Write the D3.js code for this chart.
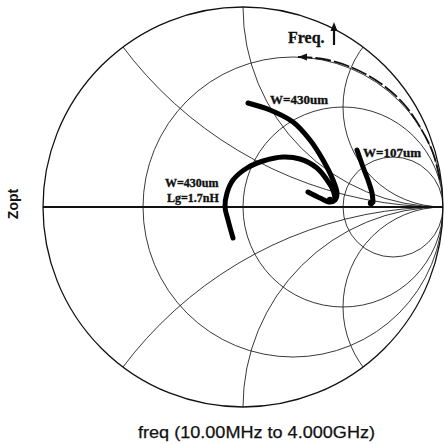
<!DOCTYPE html>
<html>
<head>
<meta charset="utf-8">
<script src="https://cdn.jsdelivr.net/npm/d3@7"></script>
<style>
  html, body { margin: 0; padding: 0; background: #fff; }
  svg { display: block; }
</style>
</head>
<body>
<svg id="chart" width="444" height="444"></svg>
<script>
// Smith chart grid values (normalised resistance / reactance)
const resistanceCircles = [1 / 3, 1, 3];
const reactanceArcs = [0.5, 1, 2, -0.5, -1, -2];

// Zopt traces as reflection coefficients (real, imag), low to high frequency
const traceW430Re = [0.025, 0.135, 0.25, 0.335, 0.40, 0.45, 0.47, 0.46, 0.435, 0.385, 0.325];
const traceW430Im = [0.52, 0.485, 0.425, 0.335, 0.235, 0.135, 0.07, 0.035, 0.025, 0.045, 0.075];

const traceLgRe = [-0.05, -0.075, -0.09, -0.08, -0.05, 0.02, 0.10, 0.20, 0.285, 0.37, 0.42, 0.45, 0.46];
const traceLgIm = [-0.155, -0.065, 0, 0.07, 0.135, 0.195, 0.23, 0.25, 0.24, 0.195, 0.135, 0.085, 0.045];

const traceW107Re = [0.57, 0.60, 0.625, 0.645, 0.65];
const traceW107Im = [0.285, 0.20, 0.135, 0.07, 0.025];

// end-of-sweep markers (reflection coefficient)
const markerRe = [0.435, 0.64];
const markerIm = [0.035, 0.02];

// frequency-direction guide arc
const freqArcRe = [0.275, 0.40, 0.55, 0.685, 0.80, 0.885, 0.95, 0.985];
const freqArcIm = [0.75, 0.74, 0.695, 0.62, 0.52, 0.40, 0.27, 0.135];

// text labels
const labels = [
  { text: "W=430um", re: 0.135, im: 0.515, size: 13 },
  { text: "W=107um", re: 0.60, im: 0.25, size: 13 },
  { text: "W=430um", re: -0.39, im: 0.10, size: 12 },
  { text: "Lg=1.7nH", re: -0.38, im: 0.025, size: 12 }
];

const svg = d3.select("#chart");
const x = d3.scaleLinear().domain([-1, 1]).range([43, 443]);
const y = d3.scaleLinear().domain([-1, 1]).range([407, 7]);
const k = x(1) - x(0); // pixels per unit of |Gamma|

svg.append("defs").append("clipPath").attr("id", "unit")
  .append("circle").attr("cx", x(0)).attr("cy", y(0)).attr("r", k);

const grid = svg.append("g").attr("clip-path", "url(#unit)")
  .attr("fill", "none").attr("stroke", "#222").attr("stroke-width", 0.9);

// constant-resistance circles
grid.selectAll("circle.r").data(resistanceCircles).join("circle")
  .attr("class", "r")
  .attr("cx", r => x(r / (r + 1)))
  .attr("cy", y(0))
  .attr("r", r => k / (r + 1));

// constant-reactance arcs
grid.selectAll("circle.x").data(reactanceArcs).join("circle")
  .attr("class", "x")
  .attr("cx", x(1))
  .attr("cy", v => y(1 / v))
  .attr("r", v => k / Math.abs(v));

// outer boundary and real axis
svg.append("circle").attr("cx", x(0)).attr("cy", y(0)).attr("r", k)
  .attr("fill", "none").attr("stroke", "#111").attr("stroke-width", 1.3);
svg.append("line").attr("x1", x(-1)).attr("x2", x(1)).attr("y1", y(0)).attr("y2", y(0))
  .attr("stroke", "#111").attr("stroke-width", 1.8);

const line = d3.line().x(d => x(d[0])).y(d => y(d[1])).curve(d3.curveCatmullRom);
const pts = (re, im) => re.map((v, i) => [v, im[i]]);

// frequency guide arc with arrowhead
const fa = pts(freqArcRe, freqArcIm).reverse();
svg.append("path").attr("d", line(fa))
  .attr("fill", "none").attr("stroke", "#111").attr("stroke-width", 1.8)
  .attr("stroke-dasharray", "16,3");
{
  const p = fa[fa.length - 1];
  const px = x(p[0]), py = y(p[1]);
  svg.append("path")
    .attr("d", `M${px},${py} l9,-3.5 l0,7 Z`)
    .attr("fill", "#111");
}

// traces
const traces = [pts(traceW430Re, traceW430Im), pts(traceLgRe, traceLgIm), pts(traceW107Re, traceW107Im)];
svg.append("g").selectAll("path").data(traces).join("path")
  .attr("d", line)
  .attr("fill", "none").attr("stroke", "#000").attr("stroke-width", 5)
  .attr("stroke-linecap", "round").attr("stroke-linejoin", "round");

svg.append("g").selectAll("circle").data(markerRe.map((v, i) => [v, markerIm[i]])).join("circle")
  .attr("cx", d => x(d[0])).attr("cy", d => y(d[1])).attr("r", 3.2).attr("fill", "#000");

// trace labels
svg.append("g").selectAll("text").data(labels).join("text")
  .attr("x", d => x(d.re)).attr("y", d => y(d.im))
  .attr("font-family", "'Liberation Serif', 'Times New Roman', serif")
  .attr("font-weight", "bold").attr("font-size", d => d.size)
  .attr("fill", "#111").attr("stroke", "#111").attr("stroke-width", 0.35)
  .text(d => d.text);

// frequency direction note
svg.append("text").attr("x", 288).attr("y", 43)
  .attr("font-family", "'Liberation Serif', 'Times New Roman', serif")
  .attr("font-weight", "bold").attr("font-size", 16).attr("fill", "#111")
  .attr("stroke", "#111").attr("stroke-width", 0.3)
  .text("Freq.");
svg.append("line").attr("x1", 334).attr("x2", 334).attr("y1", 45).attr("y2", 30)
  .attr("stroke", "#111").attr("stroke-width", 2.2);
svg.append("path").attr("d", "M334,22 l-3.5,9 l7,0 Z").attr("fill", "#111");

// axis titles
svg.append("text")
  .attr("transform", `translate(18,${y(0) - 3}) rotate(-90)`)
  .attr("text-anchor", "middle")
  .attr("font-family", "'Liberation Sans', Arial, sans-serif")
  .attr("font-weight", "bold").attr("font-size", 14).attr("fill", "#111")
  .text("Zopt");

svg.append("text").attr("x", 138).attr("y", 438)
  .attr("font-family", "'Liberation Sans', Arial, sans-serif")
  .attr("font-size", 16).attr("fill", "#111")
  .attr("stroke", "#111").attr("stroke-width", 0.25)
  .attr("textLength", 237).attr("lengthAdjust", "spacingAndGlyphs")
  .text("freq (10.00MHz to 4.000GHz)");
</script>
</body>
</html>
